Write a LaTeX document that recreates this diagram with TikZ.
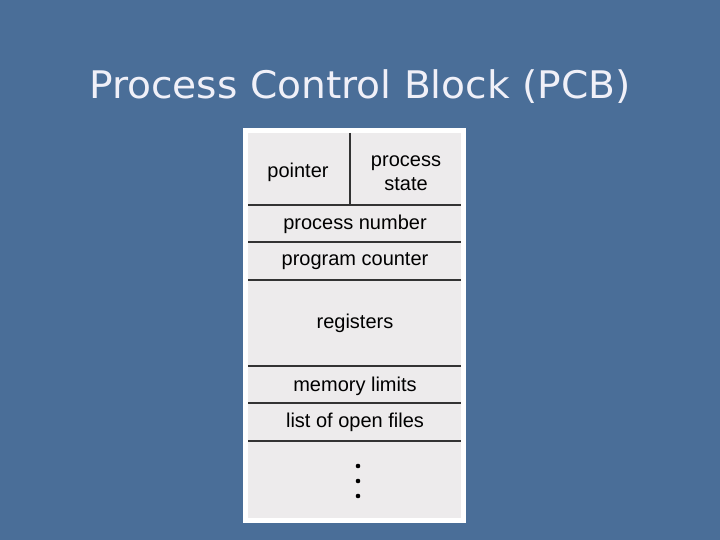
\documentclass[tikz,border=0pt]{standalone}
\usepackage{fontspec}
\setmainfont{Liberation Sans}
\newfontfamily\titlefont{DejaVu Sans}
\definecolor{bg}{HTML}{4A6E98}
\definecolor{cell}{HTML}{EDEBEC}
\definecolor{ttl}{HTML}{F0F0F8}
\begin{document}
\begin{tikzpicture}[x=1pt,y=-1pt,
  lbl/.style={font=\fontsize{20}{24}\selectfont,align=center,inner sep=0pt},
  rule/.style={line width=1.2pt,black!80}]
\fill[bg] (0,0) rectangle (720,540);
\useasboundingbox (0,0) rectangle (720,540);
\node[font=\titlefont\fontsize{38}{44}\selectfont,text=ttl,xscale=1.03] (title) at (360,87) {Process Control Block (PCB)};
\fill[white] (243,128) rectangle (466,523);
\fill[cell] (248,133) rectangle (461,518);
\draw[rule] (350,133) -- (350,205);
\foreach \y in {205,242,280,366,403,441} \draw[rule] (248,\y) -- (461,\y);
\node[lbl] (ptr) at (298,172) {pointer};
\node[lbl] (st) at (406,173) {process\\state};
\node[lbl] (pn) at (355,224) {process number};
\node[lbl] (pc) at (355,261) {program counter};
\node[lbl] (rg) at (355,323) {registers};
\node[lbl] (ml) at (355,386) {memory limits};
\node[lbl] (of) at (355,422) {list of open files};
\foreach \y in {466,481,496} \fill (358,\y) circle (2.3);
\end{tikzpicture}
\end{document}
